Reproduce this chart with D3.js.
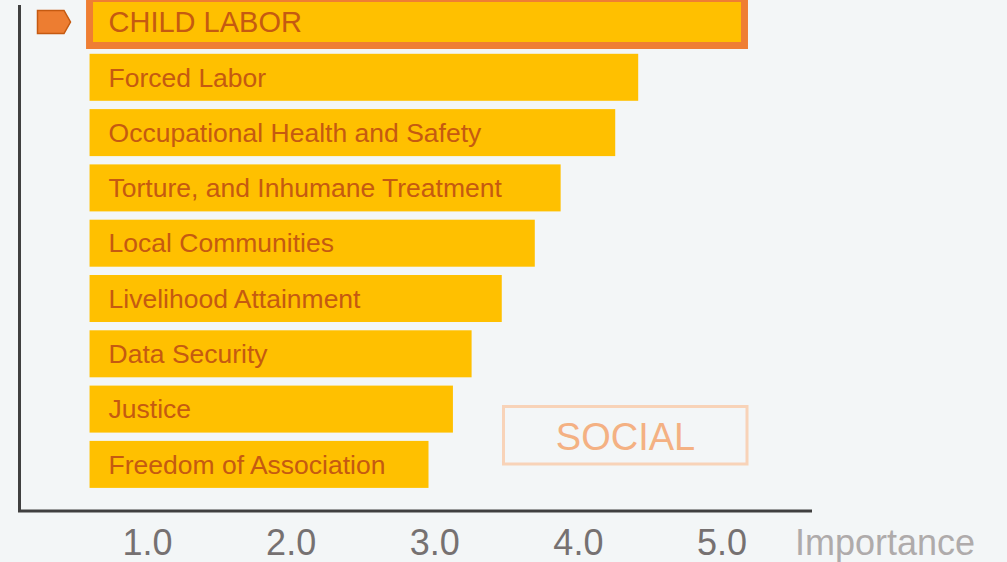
<!DOCTYPE html>
<html>
<head>
<meta charset="utf-8">
<script src="https://cdn.jsdelivr.net/npm/d3@7"></script>
<style>
  html, body { margin: 0; padding: 0; background: #F3F6F7; }
  svg { display: block; font-family: "Liberation Sans", Arial, sans-serif; }
</style>
</head>
<body>
<svg id="chart" width="1007" height="562"></svg>
<script>
// ---- data ----
const categories = [
  "CHILD LABOR",
  "Forced Labor",
  "Occupational Health and Safety",
  "Torture, and Inhumane Treatment",
  "Local Communities",
  "Livelihood Attainment",
  "Data Security",
  "Justice",
  "Freedom of Association"
];
const importance = [5.16, 4.42, 4.26, 3.88, 3.70, 3.47, 3.26, 3.13, 2.96];
const tickValues = [1, 2, 3, 4, 5];
const tickLabels = ["1.0", "2.0", "3.0", "4.0", "5.0"];
const axisTitle = "Importance";
const groupLabel = "SOCIAL";
const highlighted = "CHILD LABOR";
const barStartValue = 0.6;

// ---- layout ----
const W = 1007, H = 562;
const svg = d3.select("#chart");
svg.append("rect").attr("width", W).attr("height", H).attr("fill", "#F3F6F7");

const x = d3.scaleLinear().domain([1, 5]).range([147, 721.5]);
const y = d3.scaleBand().domain(categories)
  .range([22 - 27.65, 22 - 27.65 + 9 * 55.3])
  .paddingInner(0.15).paddingOuter(0.075);

const data = categories.map((c, i) => ({ name: c, value: importance[i] }));

// bars
const g = svg.append("g");
g.selectAll("rect.bar").data(data).join("rect")
  .attr("class", "bar")
  .attr("x", x(barStartValue))
  .attr("y", d => y(d.name))
  .attr("width", d => x(d.value) - x(barStartValue))
  .attr("height", y.bandwidth())
  .attr("fill", "#FFC000")
  .attr("stroke", d => d.name === highlighted ? "#EF7E33" : "none")
  .attr("stroke-width", d => d.name === highlighted ? 7 : 0);

// bar labels
g.selectAll("text.lbl").data(data).join("text")
  .attr("class", "lbl")
  .attr("x", x(barStartValue) + 19)
  .attr("y", d => y(d.name) + y.bandwidth() / 2)
  .attr("dy", "0.35em")
  .attr("font-size", d => d.name === highlighted ? 29 : 26.5)
  .attr("fill", "#C55A11")
  .text(d => d.name);

// marker for highlighted row
const hy = y(highlighted) + y.bandwidth() / 2;
svg.append("path")
  .attr("d", `M37.5,${hy - 11.5} L64,${hy - 11.5} L70.5,${hy} L64,${hy + 11.5} L37.5,${hy + 11.5} Z`)
  .attr("fill", "#ED7D31")
  .attr("stroke", "#C55A11")
  .attr("stroke-width", 1.5);

// axis lines
svg.append("line").attr("x1", 19.5).attr("x2", 19.5).attr("y1", 5).attr("y2", 512)
  .attr("stroke", "#404040").attr("stroke-width", 3);
svg.append("line").attr("x1", 18).attr("x2", 812).attr("y1", 511).attr("y2", 511)
  .attr("stroke", "#404040").attr("stroke-width", 3);

// x axis tick labels
const axis = d3.axisBottom(x).tickValues(tickValues)
  .tickFormat((d, i) => tickLabels[i]).tickSize(0);
const ax = svg.append("g").attr("transform", "translate(0,511)").call(axis);
ax.select(".domain").remove();
ax.selectAll("text")
  .attr("y", 43.5).attr("dy", 0)
  .attr("font-size", 36)
  .attr("font-family", "Liberation Sans, Arial, sans-serif")
  .attr("fill", "#767171");

svg.append("text")
  .attr("x", 795).attr("y", 554.5)
  .attr("font-size", 36)
  .attr("fill", "#AFABAB")
  .text(axisTitle);

// SOCIAL box
svg.append("rect")
  .attr("x", 503.5).attr("y", 406.5).attr("width", 243.5).attr("height", 57.5)
  .attr("fill", "none").attr("stroke", "#F8D3B8").attr("stroke-width", 3);
svg.append("text")
  .attr("x", 625.5).attr("y", 450)
  .attr("text-anchor", "middle")
  .attr("font-size", 38)
  .attr("fill", "#F4B183")
  .text(groupLabel);
</script>
</body>
</html>
